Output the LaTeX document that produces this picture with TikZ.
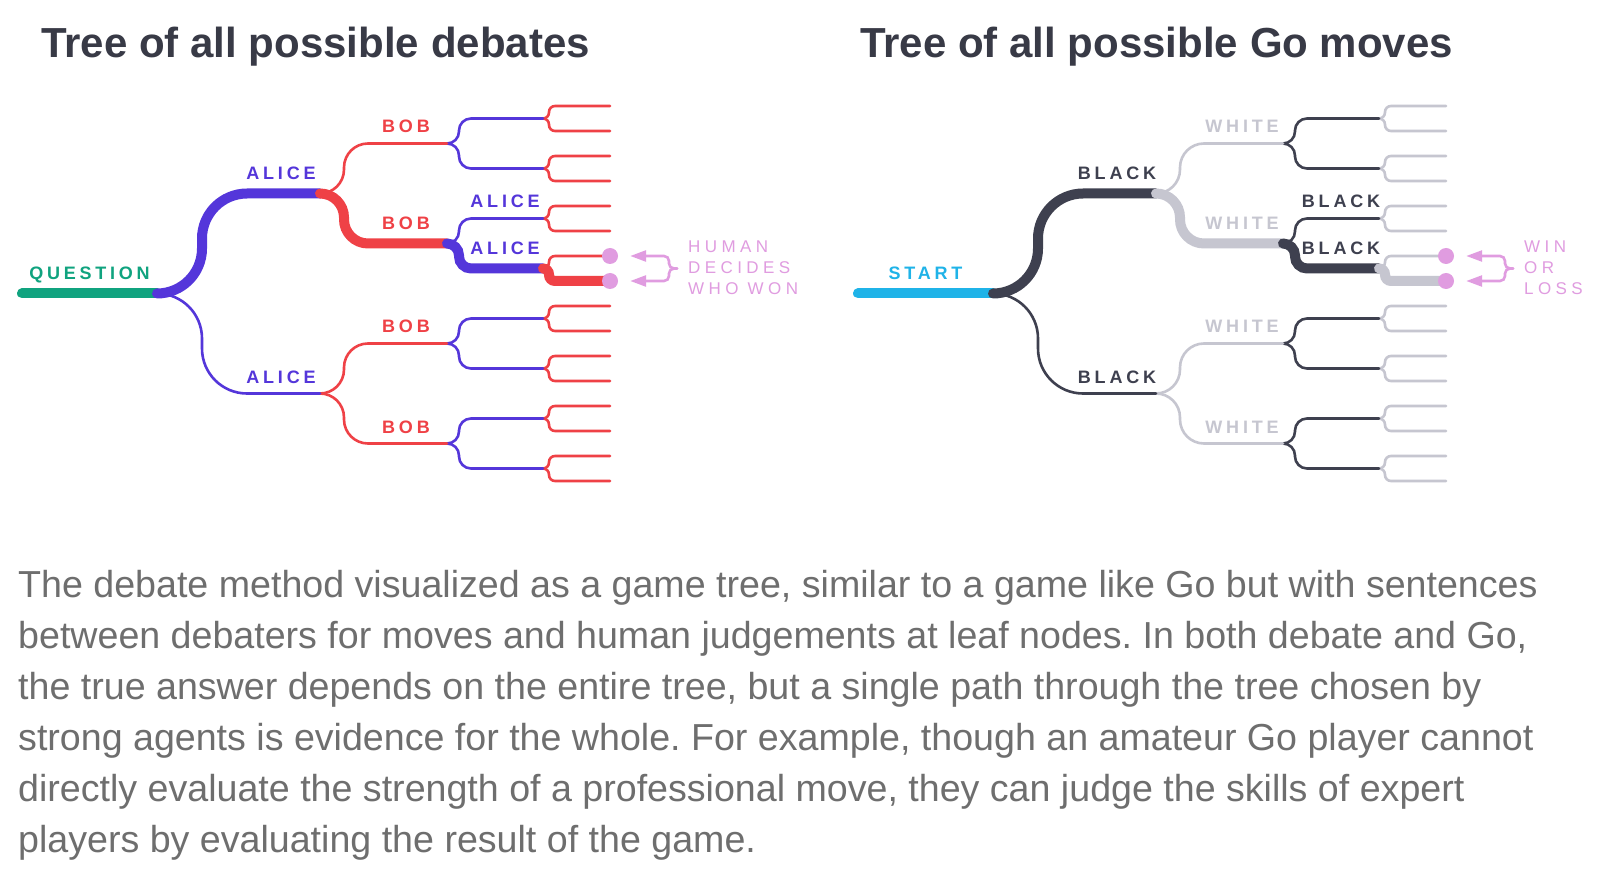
\documentclass[tikz,border=0pt]{standalone}
\usepackage{fontspec}
\setmainfont{Liberation Sans}
\newfontfamily\tagfont[LetterSpace=21]{Liberation Sans}
\newfontfamily\judgefont[LetterSpace=26]{Liberation Sans}
\usetikzlibrary{calc}
\usetikzlibrary{arrows.meta}
\frenchspacing

\definecolor{questioncol}{HTML}{10A37F}
\definecolor{alicecol}{HTML}{5436DA}
\definecolor{bobcol}{HTML}{EF4146}
\definecolor{startcol}{HTML}{1FB3E8}
\definecolor{blackcol}{HTML}{3E404F}
\definecolor{whitecol}{HTML}{C6C6D0}
\definecolor{judgecol}{HTML}{E09CE0}
\definecolor{titlecol}{HTML}{383A46}
\definecolor{captioncol}{HTML}{6E6E6E}

\begin{document}
\begin{tikzpicture}[x=1pt, y=-1pt, line cap=round,
        twig/.style={line width=2.6pt},
        trunk/.style={line width=10pt},
        branch/.style={rounded corners=#1pt,
            to path={-| ($(\tikztostart |- \tikztotarget)+(#1,0)$) -- (\tikztotarget)}},
        tag/.style={anchor=base, inner sep=0pt, font=\tagfont\bfseries\fontsize{18}{18}\selectfont},
        judge/.style={anchor=north west, inner sep=0pt, align=left, text=judgecol,
            font=\judgefont\fontsize{17}{21}\selectfont},
        pick/.style={circle, fill=judgecol, inner sep=0pt, minimum size=16pt},
        pointer/.style={judgecol, line width=2.6pt, rounded corners=5pt, shorten >=12pt,
            -{Triangle[length=16pt, width=11pt]}},
        title/.style={anchor=base west, inner sep=0pt, text=titlecol,
            font=\bfseries\fontsize{42}{42}\selectfont},
        caption/.style={anchor=north west, inner sep=0pt, align=left, text=captioncol,
            font=\fontsize{37.6}{51}\selectfont}]
    \fill[white] (0,0) rectangle (1600,882);
    \useasboundingbox (0,0) rectangle (1600,882);
    % both trees have the same shape, only colours and labels change
    \foreach \p/\dx/\cq/\ca/\cb in {d/0/questioncol/alicecol/bobcol, g/836/startcol/blackcol/whitecol} {
        \coordinate (\p-root) at (22+\dx, 293.5);
        \coordinate (\p-fork) at (157+\dx, 293.5);
        \coordinate (\p-a1) at (320+\dx, 193.5);
        \coordinate (\p-a2) at (320+\dx, 393.5);
        \foreach \k in {1,...,4} {\coordinate (\p-b\k) at (447+\dx, 43.5+100*\k);}
        \foreach \k in {1,...,8} {\coordinate (\p-c\k) at (543+\dx, 68.5+50*\k);}
        \foreach \k in {1,...,16} {\coordinate (\p-l\k) at (610+\dx, 81+25*\k);}
        % thin branches
        \foreach \k in {1,...,16} {
            \pgfmathtruncatemacro{\up}{(\k+1)/2}
            \draw[twig, draw=\cb, branch=6] (\p-c\up) to (\p-l\k);
        }
        \foreach \k in {1,...,8} {
            \pgfmathtruncatemacro{\up}{(\k+1)/2}
            \draw[twig, draw=\ca, branch=12] (\p-b\up) to (\p-c\k);
        }
        \foreach \k in {1,...,4} {
            \pgfmathtruncatemacro{\up}{(\k+1)/2}
            \draw[twig, draw=\cb, branch=24] (\p-a\up) to (\p-b\k);
        }
        \draw[twig, draw=\ca, branch=45] (\p-fork) to (\p-a2);
        % the path that was played
        \draw[trunk, draw=\cq] (\p-root) -- (\p-fork);
        \draw[trunk, draw=\ca, branch=45] (\p-fork) to (\p-a1);
        \draw[trunk, draw=\cb, branch=24] (\p-a1) to (\p-b2);
        \draw[trunk, draw=\ca, branch=12] (\p-b2) to (\p-c4);
        \draw[trunk, draw=\cb, branch=6] (\p-c4) to (\p-l8);
        \node[pick] (\p-pick1) at (\p-l7) {};
        \node[pick] (\p-pick2) at (\p-l8) {};
        \coordinate (\p-brace) at ($(\p-l7)!0.5!(\p-l8)+(67,0)$);
        \draw[pointer] (\p-brace) -| ($(\p-brace)+(-8,-12.5)$) -- (\p-pick1);
        \draw[pointer] (\p-brace) -| ($(\p-brace)+(-8,12.5)$) -- (\p-pick2);
    }
    \node[title] (d-title) at (41,58) {Tree of all possible debates};
    \node[title] (g-title) at (860,58) {Tree of all possible Go moves};
    \node[tag, text=questioncol] (d-question) at ($(d-root)!0.5!(d-fork)+(0,-14)$) {QUESTION};
    \node[tag, text=alicecol] (d-alice1) at ($(d-a1)+(-39,-14)$) {ALICE};
    \node[tag, text=alicecol] (d-alice2) at ($(d-a2)+(-39,-10.5)$) {ALICE};
    \node[tag, text=bobcol] (d-bob1) at ($(d-b1)+(-41,-10.5)$) {BOB};
    \node[tag, text=bobcol] (d-bob2) at ($(d-b2)+(-41,-14)$) {BOB};
    \node[tag, text=bobcol] (d-bob3) at ($(d-b3)+(-41,-10.5)$) {BOB};
    \node[tag, text=bobcol] (d-bob4) at ($(d-b4)+(-41,-10.5)$) {BOB};
    \node[tag, text=alicecol] (d-alice3) at ($(d-c3)+(-38,-10.5)$) {ALICE};
    \node[tag, text=alicecol] (d-alice4) at ($(d-c4)+(-38,-14)$) {ALICE};
    \node[judge] (d-verdict) at ($(d-brace)+(11,-27.5)$) {HUMAN\\DECIDES\\WHO WON};
    \node[tag, text=startcol] (g-start) at ($(g-root)!0.5!(g-fork)+(0,-14)$) {START};
    \node[tag, text=blackcol] (g-black1) at ($(g-a1)+(-39,-14)$) {BLACK};
    \node[tag, text=blackcol] (g-black2) at ($(g-a2)+(-39,-10.5)$) {BLACK};
    \node[tag, text=whitecol] (g-white1) at ($(g-b1)+(-41,-10.5)$) {WHITE};
    \node[tag, text=whitecol] (g-white2) at ($(g-b2)+(-41,-14)$) {WHITE};
    \node[tag, text=whitecol] (g-white3) at ($(g-b3)+(-41,-10.5)$) {WHITE};
    \node[tag, text=whitecol] (g-white4) at ($(g-b4)+(-41,-10.5)$) {WHITE};
    \node[tag, text=blackcol] (g-black3) at ($(g-c3)+(-38,-10.5)$) {BLACK};
    \node[tag, text=blackcol] (g-black4) at ($(g-c4)+(-38,-14)$) {BLACK};
    \node[judge] (g-verdict) at ($(g-brace)+(11,-27.5)$) {WIN\\OR\\LOSS};
    \node[caption] (caption) at (18,570) {The debate method visualized as a game tree, similar to a game like Go but with sentences\\
        between debaters for moves and human judgements at leaf nodes. In both debate and Go,\\
        the true answer depends on the entire tree, but a single path through the tree chosen by\\
        strong agents is evidence for the whole. For example, though an amateur Go player cannot\\
        directly evaluate the strength of a professional move, they can judge the skills of expert\\
        players by evaluating the result of the game.};
\end{tikzpicture}
\end{document}
